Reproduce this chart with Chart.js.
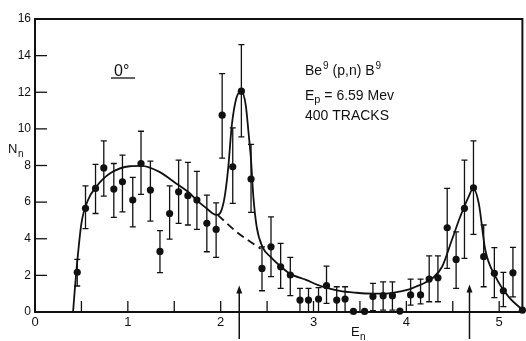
<!DOCTYPE html>
<html><head><meta charset="utf-8">
<script src="https://cdn.jsdelivr.net/npm/chart.js@4.4.1/dist/chart.umd.min.js"></script>
<style>html,body{margin:0;padding:0;background:#fff;}#wrap{width:526px;height:341px;position:relative;}</style>
</head><body><div id="wrap"><canvas id="c" width="526" height="341"></canvas></div>
<script>
// measured data points (En, Nn) with error bar ends
const enX  = [0.455,0.544,0.652,0.741,0.849,0.942,1.053,1.142,1.243,1.346,1.45,1.547,1.647,1.744,1.851,1.951,2.016,2.13,2.223,2.327,2.445,2.542,2.646,2.75,2.854,2.946,3.054,3.14,3.25,3.34,3.43,3.55,3.64,3.75,3.85,3.93,4.046,4.153,4.246,4.34,4.44,4.536,4.626,4.723,4.833,4.948,5.045,5.148,5.25];
const nVal = [2.17,5.66,6.75,7.87,6.71,7.11,6.11,8.11,6.66,3.31,5.38,6.56,6.35,6.11,4.84,4.51,10.75,7.93,12.06,7.26,2.38,3.56,2.47,2.02,0.65,0.65,0.71,1.44,0.65,0.71,0.03,0.03,0.84,0.89,0.89,0.05,0.93,0.93,1.8,1.87,4.6,2.87,5.66,6.78,3.02,2.11,1.16,2.14,0.1];
const errHi= [2.87,6.89,8.06,9.35,8.11,8.57,7.35,9.87,8.24,4.44,6.89,8.29,8.17,7.68,6.38,5.96,13.02,10.05,14.6,9.15,3.56,5.2,3.75,2.98,1.29,1.29,1.33,2.51,1.38,1.38,null,null,1.56,1.65,1.65,null,1.8,1.8,3.07,3.07,6.75,4.38,8.29,9.35,4.75,3.51,2.16,3.53,null];
const errLo= [1.42,4.55,5.38,6.33,5.17,5.47,4.65,6.42,4.96,2.15,3.98,4.84,4.75,4.51,3.29,2.98,8.4,5.93,9.56,5.44,1.16,1.93,1.29,0.89,0,0,0,0.47,0,0,null,null,0.07,0.1,0.1,null,0.38,0.44,0.56,0.56,2.38,1.29,2.93,4.24,1.38,0.78,0.29,0.83,null];
// fitted curve (solid) and background continuation (dashed)
const curveX = [0.41,0.43,0.45,0.5,0.57,0.66,0.81,1.02,1.15,1.34,1.52,1.66,1.74,1.85,1.915,1.96,2.0,2.04,2.08,2.12,2.17,2.223,2.27,2.3,2.327,2.352,2.388,2.45,2.54,2.63,2.74,2.92,3.1,3.28,3.46,3.65,3.81,3.92,4.03,4.1,4.2,4.28,4.385,4.49,4.58,4.67,4.72,4.78,4.85,4.96,5.1,5.25];
const curveY = [0,1.3,2.47,4.84,6.1,6.84,7.57,7.96,7.98,7.65,7.02,6.51,6.11,5.65,5.38,5.3,5.45,6.2,7.8,10.2,11.7,12.05,11.3,9.8,8.3,6.3,4.65,3.56,3.0,2.56,2.11,1.75,1.38,1.15,1.05,1.0,1.02,1.11,1.24,1.38,1.6,1.84,2.47,3.93,5.2,6.29,6.75,5.93,3.4,1.93,0.84,0.12];
const dashX = [1.97,2.17,2.43];
const dashY = [5.29,4.38,3.45];
// axes
const xTickVals = [0,1,2,3,4,5];
const yTickVals = [0,2,4,6,8,10,12,14,16];
const xTickMarks = [0.5,1,1.5,2,2.5,3,3.5,4,4.5,5];
const yTickMarks = [2,4,6,8,10,12,14];
const arrowX = [2.2,4.68];
const arrowTip = [1.45,1.5];

const ink = '#111';
const pts = enX.map((x,i)=>({x:x,y:nVal[i]}));
const crv = curveX.map((x,i)=>({x:x,y:curveY[i]}));
const dsh = dashX.map((x,i)=>({x:x,y:dashY[i]}));

const deco = {
  id:'deco',
  beforeDatasetsDraw(chart){
    const c=chart.ctx, xs=chart.scales.x, ys=chart.scales.y;
    c.save(); c.strokeStyle=ink; c.lineWidth=1.3;
    enX.forEach((x,i)=>{
      if(errHi[i]==null) return;
      const px=xs.getPixelForValue(x), t=ys.getPixelForValue(errHi[i]), b=ys.getPixelForValue(errLo[i]);
      c.beginPath(); c.moveTo(px,t); c.lineTo(px,b);
      c.moveTo(px-3,t); c.lineTo(px+3,t);
      if(errLo[i]>0.05){c.moveTo(px-3,b); c.lineTo(px+3,b);}
      c.stroke();
    });
    c.restore();
  },
  afterDraw(chart){
    const c=chart.ctx, a=chart.chartArea, xs=chart.scales.x, ys=chart.scales.y;
    c.save();
    c.strokeStyle=ink; c.lineWidth=2;
    c.strokeRect(a.left,a.top,a.right-a.left,a.bottom-a.top);
    c.lineWidth=1.3;
    xTickMarks.forEach(v=>{const p=xs.getPixelForValue(v);c.beginPath();c.moveTo(p,a.bottom);c.lineTo(p,a.bottom-11);c.stroke();});
    yTickMarks.forEach(v=>{const p=ys.getPixelForValue(v);c.beginPath();c.moveTo(a.left,p);c.lineTo(a.left+12,p);c.stroke();});
    // arrows
    c.fillStyle=ink; c.lineWidth=1.5;
    arrowX.forEach((v,i)=>{
      const p=xs.getPixelForValue(v), t=ys.getPixelForValue(arrowTip[i]);
      c.beginPath(); c.moveTo(p,t+5); c.lineTo(p,339); c.stroke();
      c.beginPath(); c.moveTo(p,t); c.lineTo(p-3,t+8); c.lineTo(p+3,t+8); c.closePath(); c.fill();
    });
    // texts
    c.fillStyle=ink; c.textBaseline='alphabetic'; c.textAlign='left';
    c.font='13px "Liberation Sans", Arial, sans-serif';
    c.fillText('N',8,153);
    c.font='10px "Liberation Sans", Arial, sans-serif';
    c.fillText('n',18,157);
    c.font='13px "Liberation Sans", Arial, sans-serif';
    c.fillText('E',351,336);
    c.font='10px "Liberation Sans", Arial, sans-serif';
    c.fillText('n',360,340);
    c.font='16px "Liberation Sans", Arial, sans-serif';
    c.fillText('0°',114,76);
    c.lineWidth=1.3; c.beginPath(); c.moveTo(111,78); c.lineTo(135,78); c.stroke();
    c.font='14px "Liberation Sans", Arial, sans-serif';
    c.fillText('Be',305,75);
    let w=c.measureText('Be').width;
    c.font='10px "Liberation Sans", Arial, sans-serif';
    c.fillText('9',305+w+1,69);
    let w2=c.measureText('9').width;
    c.font='14px "Liberation Sans", Arial, sans-serif';
    const s=' (p,n) B';
    c.fillText(s,305+w+1+w2,75);
    let w3=c.measureText(s).width;
    c.font='10px "Liberation Sans", Arial, sans-serif';
    c.fillText('9',305+w+1+w2+w3+1,69);
    c.font='14px "Liberation Sans", Arial, sans-serif';
    c.fillText('E',305,100);
    let we=c.measureText('E').width;
    c.font='11px "Liberation Sans", Arial, sans-serif';
    c.fillText('p',305+we,103);
    let wp=c.measureText('p').width;
    c.font='14px "Liberation Sans", Arial, sans-serif';
    c.fillText(' = 6.59 Mev',305+we+wp,100);
    c.fillText('400 TRACKS',305,120);
    c.restore();
  }
};

new Chart(document.getElementById('c'),{
  type:'scatter',
  data:{datasets:[
    {data:pts,showLine:false,pointRadius:3.6,pointHoverRadius:3.6,backgroundColor:ink,borderColor:ink,borderWidth:0,clip:false,order:0},
    {data:crv,showLine:true,pointRadius:0,borderColor:ink,borderWidth:1.8,cubicInterpolationMode:'monotone',fill:false,order:1},
    {data:dsh,showLine:true,pointRadius:0,borderColor:ink,borderWidth:1.8,borderDash:[8,5],cubicInterpolationMode:'monotone',fill:false,order:2}
  ]},
  options:{
    responsive:false,animation:false,devicePixelRatio:1,
    layout:{padding:{top:19,right:2,left:0,bottom:0}},
    plugins:{legend:{display:false},tooltip:{enabled:false}},
    scales:{
      x:{type:'linear',min:0,max:5.25,
        afterBuildTicks:s=>{s.ticks=xTickVals.map(v=>({value:v}));},
        afterFit:s=>{s.height=29;},
        grid:{display:false,drawTicks:false},border:{display:false},
        ticks:{padding:3,color:ink,font:{family:'"Liberation Sans", Arial, sans-serif',size:13},maxRotation:0,autoSkip:false}},
      y:{type:'linear',min:0,max:16,
        afterBuildTicks:s=>{s.ticks=yTickVals.map(v=>({value:v}));},
        afterFit:s=>{s.width=35;},
        grid:{display:false,drawTicks:false},border:{display:false},
        ticks:{padding:4,color:ink,font:{family:'"Liberation Sans", Arial, sans-serif',size:12}}}
    }
  },
  plugins:[deco]
});
</script></body></html>
